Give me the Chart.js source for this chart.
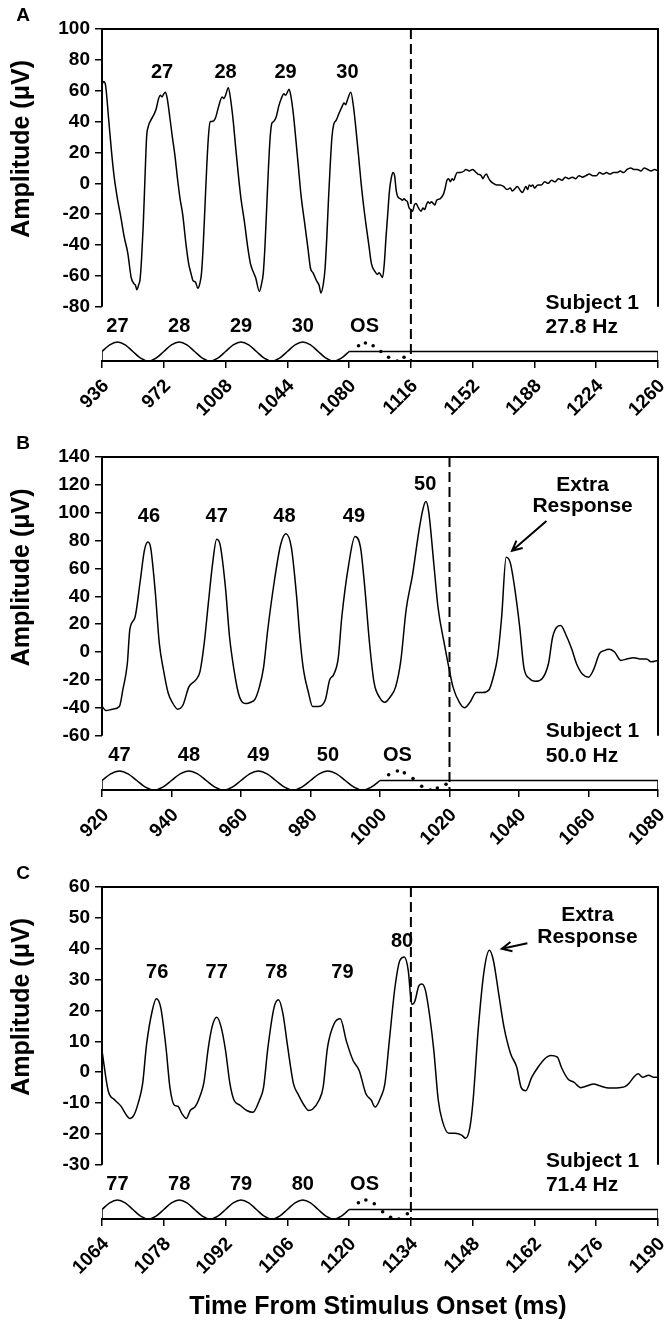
<!DOCTYPE html>
<html>
<head>
<meta charset="utf-8">
<script src="https://cdn.jsdelivr.net/npm/chart.js@4.4.1/dist/chart.umd.min.js"></script>
<style>
  body { margin: 0; background: #fff; }
  .panel { position: absolute; left: 0; width: 666px; }
</style>
</head>
<body>
<div class="panel" style="top:0;height:428px"><canvas id="chartA"></canvas></div>
<div class="panel" style="top:428px;height:430px"><canvas id="chartB"></canvas></div>
<div class="panel" style="top:858px;height:465px"><canvas id="chartC"></canvas></div>
<script>
// ---- Panel A : 27.8 Hz ----
const xTicksA = [936, 972, 1008, 1044, 1080, 1116, 1152, 1188, 1224, 1260];
const yTicksA = [-80, -60, -40, -20, 0, 20, 40, 60, 80, 100];
const timeA = [
  936, 937, 938, 940, 941.5, 943, 945, 947, 949, 951,
  953, 954.6, 955.5, 956.3, 957.3, 958.2, 959, 960, 961, 962,
  963, 964.5, 966, 967.5, 969, 970, 971, 972, 973, 974,
  975.5, 977, 978.5, 980, 981.5, 983, 985, 986.5, 988, 989,
  990.5, 991.8, 993, 994, 995, 996, 997, 998, 999, 1000,
  1002, 1004, 1006, 1007, 1008, 1009.6, 1011, 1012.5, 1014, 1015.5,
  1017, 1019, 1021, 1022.5, 1024, 1025.5, 1027.7, 1029, 1030, 1031,
  1032, 1033, 1034, 1035, 1036, 1037.5, 1039, 1040.5, 1042, 1043,
  1045, 1046, 1047.5, 1049, 1050.5, 1052, 1054, 1056, 1057.5, 1059,
  1061, 1062.5, 1063.6, 1065, 1066, 1067, 1068, 1069, 1070, 1071,
  1072.5, 1074, 1076, 1077, 1078, 1079, 1081, 1082.5, 1084, 1085.5,
  1087, 1088.5, 1090, 1091.5, 1093, 1095, 1096.5, 1097.5, 1099.5, 1100.5,
  1101.5, 1102.5, 1103.5, 1104.5, 1105.5, 1106.5, 1107.5, 1108.5, 1110, 1111,
  1112, 1113, 1114, 1115, 1116, 1117, 1118, 1119, 1120, 1121,
  1122, 1123, 1124, 1125, 1126, 1127, 1128, 1129, 1130, 1131,
  1133, 1135, 1136, 1137, 1138, 1139, 1140, 1141, 1142, 1143,
  1145, 1147, 1148, 1150, 1152, 1154, 1155, 1157, 1158, 1159,
  1160, 1161, 1162, 1164, 1166, 1168, 1170, 1172, 1174, 1175,
  1177, 1178, 1180, 1181, 1182, 1183, 1184, 1185, 1186, 1187,
  1188, 1190, 1192, 1194, 1196, 1198, 1200, 1202, 1204, 1206,
  1208, 1210, 1212, 1214, 1216, 1218, 1220, 1222, 1224, 1226,
  1228, 1230, 1232, 1234, 1236, 1238, 1240, 1242, 1244, 1246,
  1248, 1250, 1252, 1254, 1256, 1258, 1260
];
const ampA = [
  64, 66, 64, 40, 21, 5, -10, -22, -35, -45,
  -61, -65, -66, -69, -66, -62, -50, -28, 2, 30,
  37, 41, 44, 48, 55, 57, 56, 58, 59, 55,
  43, 30, 18, 3, -10, -20, -40, -52, -59, -63,
  -64, -68, -65, -58, -40, -15, 10, 30, 40, 40,
  42, 50, 56, 55, 57, 62, 54, 40, 22, 5,
  -10, -25, -42, -52, -57, -61, -70, -65, -58, -40,
  -15, 10, 30, 39, 40, 43, 50, 55, 58, 57,
  61, 57, 45, 28, 10, -8, -25, -42, -55, -58,
  -63, -66, -71, -65, -55, -35, -10, 12, 30, 38,
  41, 45, 50, 52, 51, 54, 59, 50, 35, 18,
  0, -15, -28, -40, -52, -57, -59, -58, -61, -52,
  -35, -20, -5, 3, 7, 5, -5, -9, -10, -11,
  -10, -11, -12, -16, -17, -18, -14, -13, -15, -17,
  -18, -16, -17, -14, -12, -13, -12, -13, -14, -11,
  -10, -7, -3, 2, 3, 1, 3, 2, 5, 7,
  7, 8, 9, 8, 9, 7, 6, 5, 3, 5,
  6, 4, 2, 0, -1, -1, -2, -4, -3, -5,
  -3, -2, -5, -6, -4, -2, -4, -1, -2, -1,
  -3, -1, -1, 1, 0, 2, 1, 3, 2, 4,
  3, 4, 3, 5, 4, 5, 6, 5, 5, 7,
  6, 7, 6, 7, 7, 8, 7, 9, 10, 9,
  9, 8, 10, 9, 8, 9, 8
];
const stimTimeA = [936, 940.5, 945, 949.5, 954, 958.5, 963, 967.5, 972, 976.5, 981, 985.5, 990, 994.5, 999, 1003.5,
  1008, 1012.5, 1017, 1021.5, 1026, 1030.5, 1035, 1039.5, 1044, 1048.5, 1053, 1057.5, 1062, 1066.5, 1071, 1075.5, 1080];
const osTimeA = [1085.5, 1089.5, 1094, 1098.5, 1103, 1108, 1112];
const osLevelA = [0.8, 0.95, 0.8, 0.5, 0.2, 0, 0.2];
const peakTextA = ['27', '28', '29', '30'];
const peakTimeA = [971, 1008, 1043, 1079];
const peakAmpA = [72, 72, 72, 72];
const stimTextA = ['27', '28', '29', '30', 'OS'];
const stimTextTimeA = [945, 981, 1017, 1053, 1089];

// ---- Panel B : 50.0 Hz ----
const xTicksB = [920, 940, 960, 980, 1000, 1020, 1040, 1060, 1080];
const yTicksB = [-60, -40, -20, 0, 20, 40, 60, 80, 100, 120, 140];
const timeB = [
  920, 921.2, 923, 925, 926, 927.3, 928, 929.5, 931, 932.2,
  933.2, 934, 935.3, 936.5, 937.7, 939, 940.2, 941.8, 943.3, 945,
  947, 948.2, 949.4, 950.6, 951.8, 953, 954, 955.5, 956.7, 958,
  959.2, 960.4, 961.6, 962.8, 964, 965.3, 966.5, 967.7, 969.6, 971.4,
  972.9, 974.5, 976, 977, 978, 979.4, 980.6, 982.4, 984.3, 985.5,
  986.7, 988, 989, 991, 992.8, 994.4, 995.6, 997, 998.3, 1000,
  1001.4, 1003, 1004.5, 1006, 1007.5, 1009.4, 1011.2, 1012.5, 1013.2, 1014,
  1015.5, 1016.7, 1018.5, 1019.8, 1021, 1022.8, 1024.3, 1025.9, 1027.7, 1029.5,
  1031.4, 1032.6, 1033.8, 1035, 1036.3, 1037.5, 1038.7, 1040.2, 1041.4, 1043,
  1044.8, 1046.7, 1048.5, 1049.7, 1052, 1053.4, 1055.2, 1056.5, 1058.3, 1060,
  1061.4, 1063.2, 1064.5, 1066, 1067.5, 1069.3, 1071, 1073, 1074.8, 1076.7,
  1078, 1080
];
const ampB = [
  -39, -42, -41, -39, -27, -8, 16, 25, 51, 73,
  79, 75, 44, 6, -13, -29, -36, -41, -38, -25,
  -20, -14, 6, 35, 63, 81, 77, 47, 11, -13,
  -29, -36, -37, -36, -34, -25, -11, 16, 51, 77,
  85, 75, 40, 9, -13, -29, -39, -39, -34, -20,
  -16, -4, 25, 63, 83, 75, 47, 6, -22, -33,
  -36, -32, -25, -6, 30, 56, 87, 104, 108, 101,
  63, 32, 6, -11, -25, -36, -40, -36, -29, -29,
  -27, -18, -4, 25, 68, 64, 47, 18, -11, -19,
  -21, -19, -8, 11, 19, 13, 2, -8, -16, -18,
  -13, -1, 1, 2, 0, -6, -5, -4, -5, -5,
  -7, -6
];
const stimTimeB = [920, 922.5, 925, 927.5, 930, 932.5, 935, 937.5, 940, 942.5, 945, 947.5, 950, 952.5, 955, 957.5,
  960, 962.5, 965, 967.5, 970, 972.5, 975, 977.5, 980, 982.5, 985, 987.5, 990, 992.5, 995, 997.5, 1000];
const osTimeB = [1002.5, 1005, 1007, 1009.5, 1012, 1014.5, 1016.5, 1019];
const osLevelB = [0.8, 1, 0.9, 0.6, 0.2, 0, 0.1, 0.3];
const peakTextB = ['46', '47', '48', '49', '50'];
const peakTimeB = [933.5, 953, 972.5, 992.5, 1013];
const peakAmpB = [97, 97, 97, 97, 120];
const stimTextB = ['47', '48', '49', '50', 'OS'];
const stimTextTimeB = [925, 945, 965, 985, 1005];

// ---- Panel C : 71.4 Hz ----
const xTicksC = [1064, 1078, 1092, 1106, 1120, 1134, 1148, 1162, 1176, 1190];
const yTicksC = [-30, -20, -10, 0, 10, 20, 30, 40, 50, 60];
const timeC = [
  1064, 1065.4, 1066.9, 1068.3, 1069.3, 1070.3, 1071.2, 1072.2, 1073.2, 1074.1,
  1075.4, 1076.3, 1077.3, 1078.5, 1079.4, 1080.4, 1081.2, 1082.1, 1083.1, 1084,
  1085.2, 1086.4, 1087.1, 1088.1, 1089, 1090, 1091, 1092, 1093, 1093.9,
  1095.3, 1096.8, 1098.2, 1099.7, 1100.6, 1101.6, 1103, 1104, 1105, 1106,
  1107.4, 1108.4, 1109.8, 1110.8, 1111.7, 1113.2, 1114.1, 1115.1, 1116.6, 1118,
  1119.4, 1120.9, 1122.3, 1123.8, 1125, 1125.9, 1127.2, 1128.1, 1129.1, 1130.4,
  1131.5, 1132.5, 1133.4, 1134.2, 1134.9, 1135.8, 1136.5, 1137.3, 1138.3, 1139.2,
  1140.2, 1141.1, 1142.6, 1144, 1145.5, 1146.4, 1147.4, 1148.1, 1149.3, 1150.6,
  1151.8, 1152.7, 1153.9, 1155.1, 1156.6, 1158, 1159, 1160, 1161.4, 1162.8,
  1164.3, 1165.7, 1167.2, 1168.1, 1169.6, 1171, 1172.5, 1174, 1175.4, 1176.8,
  1178.3, 1179.7, 1181.2, 1182.6, 1183.6, 1184.5, 1185.5, 1186.5, 1187.9, 1188.9,
  1190
];
const ampC = [
  7, -6, -9, -11, -13.4, -15, -14, -10, -3.8, 9,
  20, 23.8, 21, 8, -5, -10.7, -11, -13.4, -15, -12.4,
  -11, -7, -3.3, 8, 15, 17.8, 14.6, 7, -3.8, -9,
  -10.7, -12.4, -13, -9, -5, 8, 21, 23.5, 19, 9,
  -3.8, -7, -10.7, -12.4, -12, -9, -5, 8, 15.7, 17.3,
  10, 3.8, 0.5, -7, -9, -11.3, -8, -3.8, 10, 27.6,
  36.2, 37.3, 33, 22, 23, 28, 28.6, 26.5, 17.8, 7,
  -9, -15.6, -19.8, -19.8, -20.4, -21.4, -17.7, -9, 14.6, 33,
  39.5, 36.2, 25.4, 14.6, 6, 1.6, -5, -6, -1.6, 1.6,
  4.3, 5.4, 4.9, 1.6, -2.2, -3.3, -5, -4.4, -3.8, -4.4,
  -5, -5.1, -5, -4.6, -3.3, -1.6, -0.5, -1.6, -1, -1.6,
  -1.6
];
const stimTimeC = [1064, 1065.75, 1067.5, 1069.25, 1071, 1072.75, 1074.5, 1076.25, 1078, 1079.75, 1081.5,
  1083.25, 1085, 1086.75, 1088.5, 1090.25, 1092, 1093.75, 1095.5, 1097.25, 1099, 1100.75, 1102.5,
  1104.25, 1106, 1107.75, 1109.5, 1111.25, 1113, 1114.75, 1116.5, 1118.25, 1120];
const osTimeC = [1122.1, 1123.8, 1125.7, 1127.6, 1129.4, 1131.3, 1133.2];
const osLevelC = [0.86, 1, 0.8, 0.38, 0.09, 0, 0.28];
const peakTextC = ['76', '77', '78', '79', '80'];
const peakTimeC = [1076.5, 1090, 1103.5, 1118.5, 1132];
const peakAmpC = [32.4, 32.4, 32.4, 32.4, 42.2];
const stimTextC = ['77', '78', '79', '80', 'OS'];
const stimTextTimeC = [1067.5, 1081.5, 1095.5, 1109.5, 1123.5];

// stimulus sine trace, sampled at eighths of a cycle (same shape in each panel)
const stimLevel = [0.5, 0.85, 1, 0.85, 0.5, 0.15, 0, 0.15, 0.5, 0.85, 1, 0.85, 0.5, 0.15, 0, 0.15,
  0.5, 0.85, 1, 0.85, 0.5, 0.15, 0, 0.15, 0.5, 0.85, 1, 0.85, 0.5, 0.15, 0, 0.15, 0.5];

const FONT = "'Liberation Sans', Arial, sans-serif";
Chart.defaults.font.family = FONT;
Chart.defaults.font.weight = 'bold';
Chart.defaults.color = '#000';

const GAP = 0.195;       // space under the lowest amplitude tick, as a fraction of the tick range
const STIM_MAX = 17.5;   // stimulus axis range over the whole plot height
const STIM_LABEL = 1.8;  // stimulus label height in stimulus units

function pts(xs, ys) {
  return xs.map((x, i) => ({ x: x, y: ys[i] }));
}

function makeDecor(p) {
  return {
    id: 'decor' + p.letter,
    afterDatasetsDraw(chart) {
      const ctx = chart.ctx;
      const x = chart.scales.x, y = chart.scales.y, s = chart.scales.s;
      const lo = p.yTicks[0], hi = p.yTicks[p.yTicks.length - 1];
      const xl = x.getPixelForValue(p.xTicks[0]);
      const xr = x.getPixelForValue(p.xTicks[p.xTicks.length - 1]);
      const yt = y.getPixelForValue(hi), yb = y.getPixelForValue(lo);
      ctx.save();
      ctx.strokeStyle = '#000';
      ctx.fillStyle = '#000';
      ctx.lineWidth = 2;
      ctx.beginPath();
      ctx.moveTo(xl, yb);
      ctx.lineTo(xl, yt);
      ctx.lineTo(xr, yt);
      ctx.lineTo(xr, yb);
      ctx.stroke();

      ctx.font = 'bold 20px ' + FONT;
      ctx.textAlign = 'center';
      ctx.textBaseline = 'middle';
      p.peakText.forEach((t, i) => {
        ctx.fillText(t, x.getPixelForValue(p.peakTime[i]), y.getPixelForValue(p.peakAmp[i]));
      });
      const sy = s.getPixelForValue(STIM_LABEL);
      p.stimText.forEach((t, i) => {
        ctx.fillText(t, x.getPixelForValue(p.stimTextTime[i]), sy);
      });
      ctx.font = 'bold 21px ' + FONT;
      ctx.textAlign = 'left';
      const subX = x.getPixelForValue(p.subjectTime);
      ctx.fillText('Subject 1', subX, yb - 4);
      ctx.fillText(p.freq, subX, sy);

      if (p.extra) {
        const e = p.extra;
        ctx.textAlign = 'center';
        ctx.fillText('Extra', x.getPixelForValue(e.time), y.getPixelForValue(e.amp[0]));
        ctx.fillText('Response', x.getPixelForValue(e.time), y.getPixelForValue(e.amp[1]));
        const x1 = x.getPixelForValue(e.from[0]), y1 = y.getPixelForValue(e.from[1]);
        const x2 = x.getPixelForValue(e.to[0]), y2 = y.getPixelForValue(e.to[1]);
        const a = Math.atan2(y2 - y1, x2 - x1);
        ctx.lineWidth = 2;
        ctx.beginPath();
        ctx.moveTo(x1, y1);
        ctx.lineTo(x2, y2);
        ctx.moveTo(x2 - 11 * Math.cos(a - 0.45), y2 - 11 * Math.sin(a - 0.45));
        ctx.lineTo(x2, y2);
        ctx.lineTo(x2 - 11 * Math.cos(a + 0.45), y2 - 11 * Math.sin(a + 0.45));
        ctx.stroke();
      }

      // axis title and panel letter
      ctx.save();
      ctx.translate(22, (yt + yb) / 2 - 19);
      ctx.rotate(-Math.PI / 2);
      ctx.textAlign = 'center';
      ctx.font = 'bold 25px ' + FONT;
      ctx.fillText('Amplitude (μV)', 0, 0);
      ctx.restore();

      ctx.textAlign = 'center';
      ctx.font = 'bold 19px ' + FONT;
      ctx.fillText(p.letter, 23, chart.chartArea.top - 13);

      if (p.xTitle) {
        ctx.font = 'bold 25px ' + FONT;
        ctx.fillText(p.xTitle, (xl + xr) / 2 - 2, chart.height - 16);
      }
      ctx.restore();
    }
  };
}

function buildPanel(id, p) {
  const lo = p.yTicks[0], hi = p.yTicks[p.yTicks.length - 1];
  const ampMin = lo - (hi - lo) * GAP;
  const xMin = p.xTicks[0], xMax = p.xTicks[p.xTicks.length - 1];
  const line = { pointRadius: 0, borderColor: '#000', fill: false };
  new Chart(document.getElementById(id), {
    type: 'line',
    data: {
      datasets: [
        Object.assign({ data: pts(p.time, p.amp), yAxisID: 'y', borderWidth: 1.5, cubicInterpolationMode: 'monotone' }, line),
        Object.assign({ data: [{ x: p.offset, y: hi }, { x: p.offset, y: ampMin }], yAxisID: 'y', borderWidth: 2, borderDash: [10, 5] }, line),
        Object.assign({ data: pts(p.stimTime, stimLevel), yAxisID: 's', borderWidth: 1.5, cubicInterpolationMode: 'monotone' }, line),
        Object.assign({ data: [{ x: xMin, y: 0 }, { x: xMin, y: 0.5 }], yAxisID: 's', borderWidth: 1.5 }, line),
        Object.assign({ data: [{ x: p.stimTime[p.stimTime.length - 1], y: 0.5 }, { x: xMax, y: 0.5 }, { x: xMax, y: 0 }], yAxisID: 's', borderWidth: 1.5 }, line),
        { data: pts(p.osTime, p.osLevel), yAxisID: 's', showLine: false, pointRadius: 1.8,
          pointBackgroundColor: '#000', pointBorderWidth: 0 }
      ]
    },
    options: {
      responsive: true,
      maintainAspectRatio: false,
      animation: false,
      layout: { padding: { top: 29, right: 8, left: 0, bottom: 0 } },
      plugins: { legend: { display: false }, tooltip: { enabled: false } },
      scales: {
        x: {
          type: 'linear', min: xMin, max: xMax,
          afterBuildTicks: sc => { sc.ticks = p.xTicks.map(v => ({ value: v })); },
          afterFit: sc => { sc.height = p.axisHeight; sc.paddingLeft = 0; sc.paddingRight = 0; },
          ticks: { autoSkip: false, minRotation: 45, maxRotation: 45, padding: 7, labelOffset: 4,
                   font: { size: 19, weight: 'bold' }, callback: v => String(v) },
          grid: { drawOnChartArea: false, tickLength: 7, color: '#000', lineWidth: 1.5 },
          border: { display: true, color: '#000', width: 2 }
        },
        y: {
          min: ampMin, max: hi,
          afterBuildTicks: sc => { sc.ticks = p.yTicks.map(v => ({ value: v })); },
          afterFit: sc => { sc.width = 102; sc.paddingTop = 0; sc.paddingBottom = 0; },
          ticks: { padding: 5, font: { size: 19, weight: 'bold' }, callback: v => String(v) },
          grid: { drawOnChartArea: false, tickLength: 7, color: '#000', lineWidth: 1.5 },
          border: { display: false }
        },
        s: { display: false, min: 0, max: STIM_MAX }
      }
    },
    plugins: [makeDecor(p)]
  });
}

buildPanel('chartA', {
  letter: 'A', xTicks: xTicksA, yTicks: yTicksA, time: timeA, amp: ampA,
  stimTime: stimTimeA, osTime: osTimeA, osLevel: osLevelA, offset: 1116,
  peakText: peakTextA, peakTime: peakTimeA, peakAmp: peakAmpA,
  stimText: stimTextA, stimTextTime: stimTextTimeA,
  subjectTime: 1194.5, freq: '27.8 Hz', axisHeight: 67
});
buildPanel('chartB', {
  letter: 'B', xTicks: xTicksB, yTicks: yTicksB, time: timeB, amp: ampB,
  stimTime: stimTimeB, osTime: osTimeB, osLevel: osLevelB, offset: 1020,
  peakText: peakTextB, peakTime: peakTimeB, peakAmp: peakAmpB,
  stimText: stimTextB, stimTextTime: stimTextTimeB,
  subjectTime: 1047.7, freq: '50.0 Hz', axisHeight: 68,
  extra: { time: 1058.3, amp: [120, 104.6], from: [1047.9, 94], to: [1038, 72.7] }
});
buildPanel('chartC', {
  letter: 'C', xTicks: xTicksC, yTicks: yTicksC, time: timeC, amp: ampC,
  stimTime: stimTimeC, osTime: osTimeC, osLevel: osLevelC, offset: 1134,
  peakText: peakTextC, peakTime: peakTimeC, peakAmp: peakAmpC,
  stimText: stimTextC, stimTextTime: stimTextTimeC,
  subjectTime: 1164.6, freq: '71.4 Hz', axisHeight: 104,
  xTitle: 'Time From Stimulus Onset (ms)',
  extra: { time: 1174, amp: [50.8, 43.8], from: [1160.4, 41.8], to: [1154.6, 40] }
});
</script>
</body>
</html>
